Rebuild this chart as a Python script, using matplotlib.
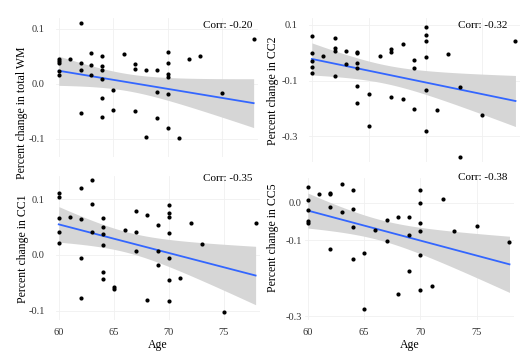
import matplotlib
matplotlib.use("Agg")
import matplotlib.pyplot as plt
import numpy as np

plt.rcParams["font.family"] = ["Liberation Serif", "DejaVu Serif"]

# ages and percent change
age_wm = [60, 60, 60, 60, 60, 61, 62, 62, 62, 62, 63, 63, 63, 64, 64, 64, 64, 64, 64,
          65, 65, 66, 67, 67, 67, 68, 68, 69, 69, 69, 70, 70, 70, 70, 70, 70,
          71, 72, 73, 75, 77.9]
wm = [0.045, 0.042, 0.039, 0.024, 0.016, 0.045, 0.110, 0.038, 0.025, -0.053,
      0.057, 0.035, 0.016, 0.051, 0.033, 0.025, 0.009, -0.025, -0.061,
      -0.011, -0.048, 0.055, 0.036, 0.027, -0.050, 0.025, -0.097,
      0.025, -0.015, -0.062, 0.058, 0.039, 0.018, 0.013, -0.018, -0.081,
      -0.099, 0.046, 0.050, -0.017, 0.082]

age_cc2 = [60, 60, 60, 60, 60, 61, 62, 62, 62, 62, 63, 63, 64, 64, 64, 64, 64, 64,
           65, 65, 66, 67, 67, 67, 68, 68, 69, 69, 69, 70, 70, 70, 70, 70, 70,
           71, 72, 73, 73, 75, 77.9]
cc2 = [0.060, -0.002, -0.029, -0.052, -0.071, -0.011, 0.052, 0.019, 0.008, -0.083,
       0.008, -0.040, 0.004, 0.000, -0.038, -0.056, -0.119, -0.181,
       -0.149, -0.263, -0.010, 0.013, 0.002, -0.160, 0.031, -0.167,
       -0.026, -0.056, -0.203, 0.092, 0.064, 0.043, -0.014, -0.134, -0.281,
       -0.205, -0.005, -0.122, -0.375, -0.223, 0.043]

age_cc1 = [60, 60, 60, 60, 60, 61, 62, 62, 62, 62, 63, 63, 63, 64, 64, 64, 64, 64, 64,
           65, 65, 66, 67, 67, 67, 68, 68, 69, 69, 69, 70, 70, 70, 70, 70, 70, 70,
           71, 72, 73, 75, 77.9]
cc1 = [0.112, 0.104, 0.067, 0.042, 0.022, 0.069, 0.120, 0.065, -0.005, -0.077,
       0.135, 0.091, 0.042, 0.066, 0.051, 0.037, 0.017, -0.031, -0.043,
       -0.057, -0.061, 0.044, 0.079, 0.041, 0.007, 0.072, -0.081,
       0.054, 0.008, -0.018, 0.090, 0.075, 0.069, 0.040, -0.006, -0.045, -0.082,
       -0.042, 0.057, 0.019, -0.102, 0.057]

age_cc5 = [60, 60, 60, 60, 60, 61, 62, 62, 62, 62, 63, 63, 64, 64, 64, 64,
           65, 65, 66, 67, 67, 68, 68, 69, 69, 69, 70, 70, 70, 70, 70, 70,
           71, 72, 73, 75, 77.9]
cc5 = [0.041, 0.007, -0.019, -0.048, -0.055, 0.022, 0.026, 0.023, -0.011, -0.122,
       0.048, -0.026, 0.034, -0.018, -0.065, -0.150,
       -0.132, -0.280, -0.072, -0.046, -0.101, -0.039, -0.242,
       -0.039, -0.085, -0.180, 0.034, -0.002, -0.055, -0.075, -0.139, -0.231,
       -0.219, 0.009, -0.075, -0.062, -0.103]

# fitted line as drawn in the figure: value at age 60 and at age 77.9
fit_ends = [(0.024, -0.035), (-0.022, -0.173), (0.055, -0.037), (-0.021, -0.163)]

ylabels = ["Percent change in total WM", "Percent change in CC2",
           "Percent change in CC1", "Percent change in CC5"]
corr_labels = ["Corr: -0.20", "Corr: -0.32", "Corr: -0.35", "Corr: -0.38"]
yticks = [[0.1, 0.0, -0.1], [0.1, -0.1, -0.3], [0.1, 0.0, -0.1], [0.0, -0.1, -0.3]]
ylims = [(-0.133, 0.12), (-0.392, 0.125), (-0.117, 0.142), (-0.31, 0.065)]
xticks = [60, 65, 70, 75]

W, H = 530, 353
# panel boxes in pixels: left, right, top, bottom
boxes = [(56, 258, 18, 157), (309, 520, 18, 162), (56, 260, 176, 320), (305, 514, 178, 320)]
ylab_pos = [(22, 113), (273, 91), (23, 249), (273, 238)]
corr_pos = [(252, 25), (507, 25), (252, 179), (507, 178)]
tick_pad = [8, 8, 8, 2.5]

fig = plt.figure(figsize=(W / 100, H / 100), dpi=100)

panels = [(age_wm, wm), (age_cc2, cc2), (age_cc1, cc1), (age_cc5, cc5)]
for i, (ages, vals) in enumerate(panels):
    l, r, t, b = boxes[i]
    ax = fig.add_axes([l / W, 1 - b / H, (r - l) / W, (b - t) / H])
    x = np.array(ages, float)
    y = np.array(vals, float)

    # line from the figure, 95% band from the scatter around it
    y0, y1 = fit_ends[i]
    slope = (y1 - y0) / (77.9 - 60)
    icpt = y0 - slope * 60
    xs = np.linspace(x.min(), x.max(), 100)
    fit = icpt + slope * xs
    n = len(x)
    resid = y - (icpt + slope * x)
    s = np.sqrt(np.sum(resid ** 2) / (n - 2))
    se = s * np.sqrt(1 / n + (xs - x.mean()) ** 2 / np.sum((x - x.mean()) ** 2))
    ax.fill_between(xs, fit - 2.02 * se, fit + 2.02 * se, color="#d6d6d6", lw=0, zorder=1)
    ax.plot(xs, fit, color="#3366FF", lw=1.3, zorder=2)
    ax.scatter(x, y, s=9, color="black", zorder=3, clip_on=False, linewidths=0)

    ax.set_xlim(59.75, 78.3)
    ax.set_ylim(*ylims[i])
    ax.set_xticks(xticks)
    ax.set_yticks(yticks[i])
    ax.set_yticklabels([f"{v:.1f}" for v in yticks[i]])
    ax.grid(True, color="#f0f0f0", lw=0.6)
    ax.set_axisbelow(True)
    for sp in ax.spines.values():
        sp.set_visible(False)
    ax.tick_params(length=0, labelsize=7.5, colors="#333333")
    ax.tick_params(axis="y", pad=tick_pad[i])
    ax.tick_params(axis="x", pad=6)
    if i < 2:
        ax.tick_params(labelbottom=False)
    else:
        ax.set_xlabel("Age", fontsize=8.5, labelpad=1)

    cx, cy = corr_pos[i]
    fig.text(cx / W, 1 - cy / H, corr_labels[i], ha="right", va="center", fontsize=8)
    lx, ly = ylab_pos[i]
    fig.text(lx / W, 1 - ly / H, ylabels[i], rotation=90, ha="center", va="center",
             fontsize=8.5)

fig.savefig("out.png", dpi=100)
